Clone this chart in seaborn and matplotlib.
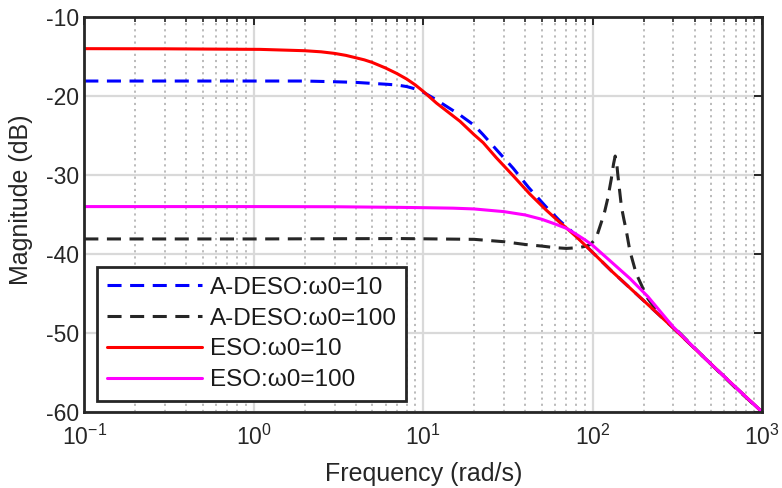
import numpy as np
import pandas as pd
import matplotlib
matplotlib.use("Agg")
import matplotlib.pyplot as plt
import seaborn as sns
from matplotlib.ticker import LogLocator, NullFormatter, FixedLocator

# Magnitude responses (frequency in rad/s, magnitude in dB)
freq_adeso_10 = [0.1, 0.3, 1.0, 2.0, 3.0, 4.0, 5.0, 6.0, 7.0, 8.0, 9.0, 10.0, 12.0,
                 16.5, 20.0, 22.6, 27.1, 34.0, 42.0, 53.0, 64.0, 75.0, 100.0, 130.0,
                 166.0, 200.0, 300.0, 465.0, 700.0, 1000.0]
mag_adeso_10 = [-18.1, -18.1, -18.1, -18.1, -18.19, -18.27, -18.4, -18.5, -18.6,
                -18.8, -19.1, -19.5, -20.5, -22.4, -23.7, -24.9, -26.8, -29.15,
                -31.6, -34.0, -35.8, -37.1, -39.8, -42.2, -44.3, -45.9, -49.4,
                -53.3, -56.9, -60.0]

freq_adeso_100 = [0.1, 1.0, 7.3, 20.0, 30.0, 40.0, 50.0, 60.0, 70.0, 83.0, 92.0,
                  97.0, 100.0, 105.0, 113.0, 118.0, 123.0, 129.0, 133.0, 136.0,
                  139.0, 141.0, 145.0, 148.0, 153.0, 158.0, 166.0, 181.0, 195.0,
                  208.0, 230.0, 255.0, 300.0, 465.0, 700.0, 1000.0]
mag_adeso_100 = [-38.1, -38.1, -38.05, -38.15, -38.45, -38.8, -39.0, -39.2, -39.3,
                 -39.2, -39.0, -38.8, -38.5, -38.0, -35.9, -34.6, -32.95, -30.5,
                 -28.6, -27.6, -28.6, -30.0, -32.3, -34.0, -35.6, -37.0, -39.6,
                 -42.5, -44.0, -45.4, -46.7, -47.9, -49.2, -53.3, -57.0, -60.0]

freq_eso_10 = [0.1, 0.3, 1.09, 2.0, 2.5, 3.0, 3.5, 4.0, 4.5, 5.0, 6.0, 7.0, 8.0, 9.0,
               10.0, 12.0, 16.5, 20.0, 22.6, 27.0, 34.0, 42.6, 53.0, 64.0, 70.0, 80.0,
               100.0, 130.0, 166.0, 200.0, 300.0, 465.0, 700.0, 1000.0]
mag_eso_10 = [-14.0, -14.02, -14.09, -14.26, -14.4, -14.6, -14.85, -15.15, -15.42,
              -15.74, -16.45, -17.15, -17.85, -18.6, -19.4, -20.9, -23.2, -24.9,
              -25.9, -27.8, -30.1, -32.4, -34.4, -36.0, -36.7, -37.8, -39.8, -42.2,
              -44.3, -45.9, -49.4, -53.3, -56.9, -60.0]

freq_eso_100 = [0.1, 1.0, 3.0, 7.3, 10.0, 15.0, 20.0, 30.0, 40.0, 50.0, 60.0, 70.0,
                80.0, 90.0, 100.0, 132.0, 166.0, 212.0, 298.0, 465.0, 700.0, 1000.0]
mag_eso_100 = [-34.0, -34.0, -34.02, -34.1, -34.14, -34.2, -34.3, -34.64, -35.06,
               -35.6, -36.2, -36.75, -37.5, -38.2, -38.9, -41.2, -43.1, -45.4, -49.2,
               -53.3, -56.9, -60.0]

labels = ["A-DESO:ω0=10", "A-DESO:ω0=100", "ESO:ω0=10", "ESO:ω0=100"]
colors = ["#0000ff", "#262626", "#ff0000", "#ff00ff"]
styles = ["--", "--", "-", "-"]

x_ticks = [0.1, 1, 10, 100, 1000]
y_ticks = [-60, -50, -40, -30, -20, -10]

sns.set_theme(style="white")
plt.rcParams["font.family"] = ["Liberation Sans", "DejaVu Sans"]
plt.rcParams["mathtext.fontset"] = "custom"
plt.rcParams["mathtext.rm"] = "Liberation Sans"
plt.rcParams["mathtext.it"] = "Liberation Sans"
plt.rcParams["axes.unicode_minus"] = False

fig = plt.figure(figsize=(7.82, 4.88), dpi=100)
ax = fig.add_axes([0.1078, 0.156, 0.8666, 0.809])

series = [(freq_adeso_10, mag_adeso_10), (freq_adeso_100, mag_adeso_100),
          (freq_eso_10, mag_eso_10), (freq_eso_100, mag_eso_100)]
for (f, m), lab, col, ls in zip(series, labels, colors, styles):
    df = pd.DataFrame({"freq": f, "mag": m})
    line_ax = sns.lineplot(data=df, x="freq", y="mag", ax=ax, color=col,
                           label=lab, estimator=None, sort=True, linewidth=2.2)
    line = line_ax.get_lines()[-1]
    line.set_linestyle(ls)
    if ls == "--":
        line.set_dashes((4.6, 2.8))

ax.set_xscale("log")
ax.set_xlim(0.1, 1000)
ax.set_ylim(-60, -10)
ax.xaxis.set_major_locator(FixedLocator(x_ticks))
ax.xaxis.set_minor_locator(LogLocator(base=10, subs=np.arange(2, 10), numticks=20))
ax.xaxis.set_minor_formatter(NullFormatter())
ax.set_yticks(y_ticks)

ax.grid(which="major", color="#d9d9d9", linewidth=1.6, linestyle="-")
ax.grid(which="minor", axis="x", color="#b5b5b5", linewidth=1.3, linestyle=(0, (1.2, 2.2)))
ax.set_axisbelow(True)

for sp in ax.spines.values():
    sp.set_color("#262626")
    sp.set_linewidth(2.0)

ax.tick_params(which="major", direction="in", length=6, width=1.4, top=True, right=True,
               labelsize=16.5, colors="#262626")
ax.tick_params(axis="x", which="major", pad=9)
ax.tick_params(axis="y", which="major", pad=4)
ax.tick_params(which="minor", direction="in", length=3.5, width=1.2, top=True, right=True,
               colors="#262626")

ax.set_xlabel("Frequency (rad/s)", fontsize=18, color="#262626")
ax.set_ylabel("Magnitude (dB)", fontsize=18, color="#262626")
ax.xaxis.set_label_coords(0.5005, -0.128)
ax.yaxis.set_label_coords(-0.076, 0.537)

leg = ax.legend(loc="lower left", bbox_to_anchor=(0.019, 0.028), borderaxespad=0,
                fontsize=17.5, handlelength=3.9, handletextpad=0.33, labelspacing=0.36,
                frameon=True, fancybox=False, framealpha=1.0, borderpad=0.4)
leg.get_frame().set_edgecolor("#262626")
leg.get_frame().set_linewidth(2.0)
for t in leg.get_texts():
    t.set_color("#1a1a1a")

fig.savefig("out.png", dpi=100)
